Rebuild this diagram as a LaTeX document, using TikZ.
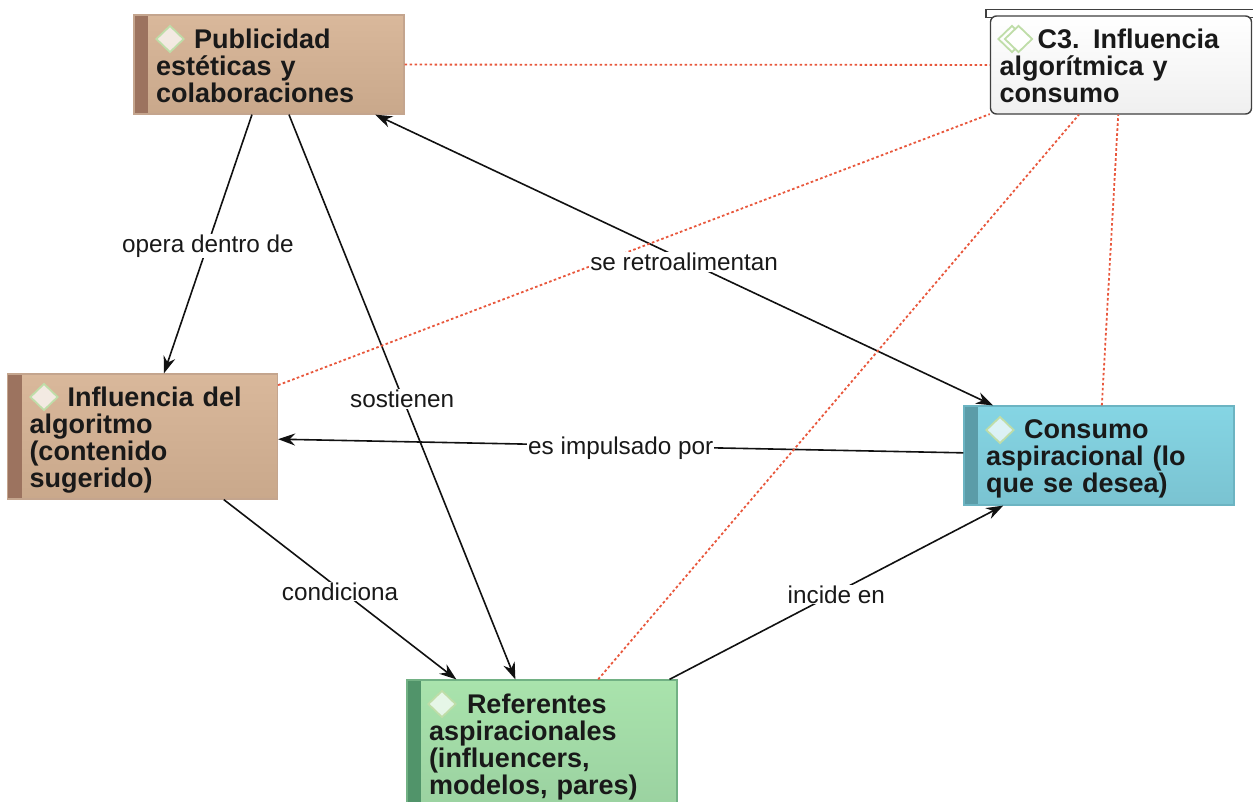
\documentclass[tikz,border=0pt]{standalone}
\usepackage{fontspec}
\setmainfont{Liberation Sans}
\usetikzlibrary{arrows.meta,shapes.geometric}
\definecolor{arrowcol}{HTML}{111111}
\definecolor{dotcol}{HTML}{E8573C}
\definecolor{browntop}{HTML}{D9B89B}
\definecolor{brownbot}{HTML}{C9A88B}
\definecolor{brownline}{HTML}{C4A58E}
\definecolor{brownbar}{HTML}{9C735F}
\definecolor{greentop}{HTML}{A9E3AC}
\definecolor{greenbot}{HTML}{9AD1A0}
\definecolor{greenline}{HTML}{72B184}
\definecolor{greenbar}{HTML}{51946A}
\definecolor{tealtop}{HTML}{85D5E4}
\definecolor{tealbot}{HTML}{7AC3D1}
\definecolor{tealline}{HTML}{6CB4C2}
\definecolor{tealbar}{HTML}{5B9CA8}
\definecolor{markcol}{HTML}{BFDDA8}
\newcommand{\lift}[1]{\rule{0pt}{#1pt}\hspace*{38pt}}
\tikzset{
  x=1pt,y=-1pt,
  boxtext/.style={align=left,inner ysep=0pt,font=\fontsize{27}{27}\selectfont\bfseries,text=black!90},
  code/.style 2 args={boxtext,rectangle,draw=#1line,line width=1.2pt,top color=#1top,bottom color=#1bot,
    inner xsep=22pt,text width=226pt,minimum width=270pt,minimum height=#2,
    path picture={\fill[#1bar] (path picture bounding box.north west) rectangle ([xshift=14pt]path picture bounding box.south west);}},
  markbox/.style={diamond,draw=markcol,line width=1.8pt,fill=white,fill opacity=.72,inner sep=0pt,minimum width=28pt,minimum height=27pt},
  arrowline/.style={draw=arrowcol,line width=1.6pt,-{Stealth[length=17pt,width=12pt]}},
  bothline/.style={draw=arrowcol,line width=1.6pt,{Stealth[length=17pt,width=12pt]}-{Stealth[length=17pt,width=12pt]}},
  dotline/.style={draw=dotcol,line width=1.8pt,dash pattern=on 2.6pt off 2.4pt},
  edgelabel/.style={fill=white,inner xsep=1pt,inner ysep=1pt,yshift=-2pt,font=\fontsize{24.3}{26}\selectfont,text=black!90},
}
\begin{document}
\begin{tikzpicture}
\useasboundingbox (0,0) rectangle (1253,801);
\path (269,64.5) node[code={brown}{99pt}] (pub) {\lift{23}Publicidad\\estéticas y\\colaboraciones}
      (142.5,436.5) node[code={brown}{125pt}] (alg) {\lift{27}Influencia del\\algoritmo\\(contenido\\sugerido)}
      (542,746) node[code={green}{132pt}] (ref) {\lift{22}Referentes\\aspiracionales\\(influencers,\\modelos, pares)}
      (1099,455.5) node[code={teal}{99pt}] (con) {\lift{26}Consumo\\aspiracional (lo\\que se desea)}
      (1122,13.5) node[draw=black!75,line width=1.4pt,fill=white,minimum width=272pt,minimum height=8pt,inner sep=0pt] (c3tab) {}
      (1121,65) node[boxtext,rectangle,rounded corners=6pt,draw=black!75,line width=1.4pt,top color=white,bottom color=black!6,
                      inner xsep=9pt,text width=243pt,minimum width=261pt,minimum height=98pt] (c3) {\lift{21}C3. Influencia\\algorítmica y\\consumo};
\path (170,39) node[markbox] (pubmark) {}
      (44,397) node[markbox] (algmark) {}
      (442,704) node[markbox] (refmark) {}
      (1000,430) node[markbox] (conmark) {};
\path (1012,39) node[markbox] (c3marka) {}
      (1018.5,39) node[markbox,fill opacity=1] (c3markb) {};

\draw[arrowline] (pub) -- node[edgelabel] (lopera) {opera dentro de} (alg);
\draw[arrowline] (pub) -- (ref);
\draw[bothline] (pub) -- (con);
\draw[arrowline] (con) -- (alg);
\draw[arrowline] (alg) -- (ref);
\draw[arrowline] (ref) -- (con);

\draw[dotline] (pub) -- (c3);
\draw[dotline] (alg) -- (c3);
\draw[dotline] (ref) -- (c3);
\draw[dotline] (con) -- (c3);

\path (pub) -- node[edgelabel] (lsost) {sostienen} (ref);
\path (pub) -- node[edgelabel] (lretro) {se retroalimentan} (con);
\path (con) -- node[edgelabel] (limp) {es impulsado por} (alg);
\path (alg) -- node[edgelabel] (lcond) {condiciona} (ref);
\path (ref) -- node[edgelabel] (linc) {incide en} (con);
\end{tikzpicture}
\end{document}
